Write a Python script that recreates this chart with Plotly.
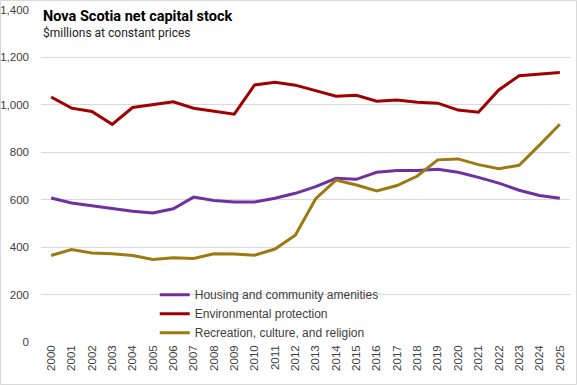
import plotly.graph_objects as go

years = [str(y) for y in range(2000, 2026)]

housing = [607, 586, 575, 562, 551, 544, 562, 611, 597, 590, 590, 606, 627, 655, 690, 686, 716, 723, 723, 728, 716, 694, 670, 640, 618, 606]
environment = [1033, 986, 972, 918, 989, 1000, 1013, 986, 975, 961, 1084, 1095, 1083, 1059, 1036, 1040, 1015, 1020, 1011, 1007, 978, 969, 1063, 1123, 1128, 1136]
recreation = [365, 390, 375, 372, 365, 348, 355, 352, 372, 371, 366, 392, 450, 604, 683, 662, 637, 660, 700, 768, 772, 748, 731, 745, 830, 918]

series_names = ["Housing and community amenities", "Environmental protection", "Recreation, culture, and religion"]
colors = ["#7030A0", "#A00000", "#9C7A12"]

W, H = 577, 385
ml, mr, mt, mb = 41, 7, 10, 43
pw, ph = W - ml - mr, H - mt - mb

fig = go.Figure()
for name, vals, c in zip(series_names, [housing, environment, recreation], colors):
    fig.add_trace(go.Scatter(x=years, y=vals, mode="lines", name=name,
                             line=dict(color=c, width=3)))

tick_font = dict(family="Liberation Sans, Arial, sans-serif", size=11.5, color="#404040")

fig.update_layout(
    width=W, height=H,
    margin=dict(l=ml, r=mr, t=mt, b=mb),
    paper_bgcolor="white", plot_bgcolor="white",
    showlegend=True,
    legend=dict(x=0.215, y=0.186, xanchor="left", yanchor="top",
                bgcolor="rgba(0,0,0,0)",
                font=dict(family="Liberation Sans, Arial, sans-serif", size=12, color="#404040"),
                itemwidth=30, tracegroupgap=0),
    xaxis=dict(type="category", range=[-0.5, 25.5], tickangle=-90, automargin=False,
               tickfont=tick_font, showgrid=False, showline=False, ticks="", zeroline=False),
    yaxis=dict(range=[0, 1400], dtick=200, tickformat=",", tickfont=tick_font, automargin=False,
               showgrid=True, gridcolor="#D9D9D9", gridwidth=1, zeroline=False,
               showline=False, ticks="", ticklabelstandoff=11),
    shapes=[dict(type="rect", xref="paper", yref="paper",
                 x0=-(ml - 0.5) / pw, x1=1 + (mr - 0.5) / pw,
                 y0=-(mb - 0.5) / ph, y1=1 + (mt - 0.5) / ph,
                 line=dict(color="#D9D9D9", width=1), fillcolor="rgba(0,0,0,0)", layer="below")],
    annotations=[
        dict(xref="paper", yref="paper", x=0.0, y=1.0, xanchor="left", yanchor="top",
             text="<b>Nova Scotia net capital stock</b>", showarrow=False,
             font=dict(family="Roboto, sans-serif", size=14.5, color="#000000"),
             bgcolor="white", xshift=0, yshift=4),
        dict(xref="paper", yref="paper", x=0.0, y=1.0, xanchor="left", yanchor="top",
             text="$millions at constant prices", showarrow=False,
             font=dict(family="Roboto, sans-serif", size=12, color="#222222"),
             xshift=0, yshift=-14),
    ],
)

fig.write_html("out.html", config={"displayModeBar": False},
               post_script="document.body.style.margin='0px';")
